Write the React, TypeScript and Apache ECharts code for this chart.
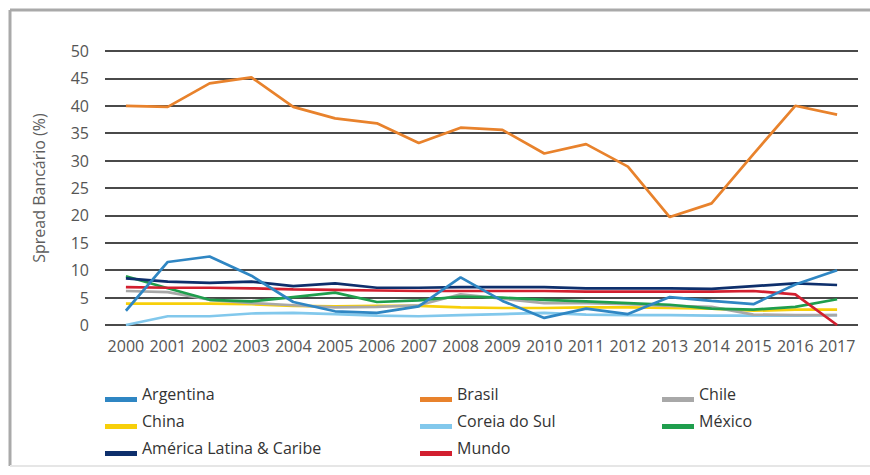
import React, { useEffect, useRef } from "react";
import * as echarts from "echarts";

// Years on the category axis
const years = [
  "2000", "2001", "2002", "2003", "2004", "2005", "2006", "2007", "2008",
  "2009", "2010", "2011", "2012", "2013", "2014", "2015", "2016", "2017",
];

// Bank spread (%) per country / region
const argentina = [2.6, 11.5, 12.5, 9.0, 4.2, 2.5, 2.2, 3.4, 8.7, 4.4, 1.3, 3.0, 2.0, 5.1, 4.4, 3.8, 7.4, 10.0];
const brasil = [40.0, 39.8, 44.1, 45.2, 39.8, 37.7, 36.8, 33.2, 36.0, 35.6, 31.3, 33.0, 28.9, 19.7, 22.2, 31.2, 40.0, 38.4];
const chile = [6.2, 6.0, 4.6, 4.0, 3.6, 3.2, 3.3, 3.6, 5.6, 4.8, 4.0, 4.0, 3.8, 3.5, 3.3, 1.9, 1.8, 1.8];
const china = [3.9, 3.9, 3.9, 3.8, 3.5, 3.4, 3.5, 3.5, 3.2, 3.1, 3.1, 3.2, 3.2, 3.1, 3.0, 2.6, 2.8, 2.8];
const coreiaDoSul = [0.0, 1.6, 1.6, 2.1, 2.2, 2.0, 1.7, 1.6, 1.8, 2.0, 2.2, 1.9, 1.8, 1.8, 1.7, 1.7, 1.7, 1.8];
const mexico = [8.9, 6.7, 4.6, 4.3, 5.1, 5.9, 4.2, 4.5, 5.2, 5.0, 4.6, 4.3, 4.0, 3.7, 3.0, 2.8, 3.3, 4.7];
const americaLatina = [8.5, 7.9, 7.7, 7.9, 7.1, 7.6, 6.8, 6.8, 6.9, 6.9, 6.9, 6.7, 6.7, 6.7, 6.6, 7.1, 7.6, 7.3];
const mundo = [6.9, 6.8, 6.8, 6.7, 6.5, 6.4, 6.3, 6.2, 6.2, 6.2, 6.2, 6.1, 6.1, 6.1, 6.1, 6.2, 5.6, 0.0];

// Y-axis range and step
const yMin = 0;
const yMax = 50;
const yStep = 5;

const FONT = "'Open Sans', 'Noto Sans', sans-serif";

const COLORS: Record<string, string> = {
  Argentina: "#2f86c3",
  Brasil: "#e8822c",
  Chile: "#a8a8a8",
  China: "#f7cf0a",
  "Coreia do Sul": "#82c8ec",
  "México": "#1f9e4d",
  "América Latina & Caribe": "#0e2f6c",
  Mundo: "#d21f2f",
};

const seriesData: [string, number[]][] = [
  ["Coreia do Sul", coreiaDoSul],
  ["China", china],
  ["Chile", chile],
  ["México", mexico],
  ["Mundo", mundo],
  ["América Latina & Caribe", americaLatina],
  ["Brasil", brasil],
  ["Argentina", argentina],
];

// Legend swatch: a flat bar sitting low in a 32x17 box, so the label rides above it
const SWATCH = "path://M0,0h0.01v0.01h-0.01Z M0,12h32v5h-32Z";

function legendColumn(names: string[], left: number) {
  return {
    data: names,
    orient: "vertical",
    left,
    top: 385,
    height: 100,
    padding: 0,
    icon: SWATCH,
    itemWidth: 32,
    itemHeight: 17,
    itemGap: 10,
    selectedMode: false,
    textStyle: {
      fontFamily: FONT,
      fontSize: 16,
      lineHeight: 16,
      color: "#333333",
    },
  };
}

export default function App() {
  const ref = useRef<HTMLDivElement>(null);

  useEffect(() => {
    if (!ref.current) return;
    const chart = echarts.init(ref.current, null, { renderer: "svg" });

    chart.setOption({
      animation: false,
      backgroundColor: "#ffffff",
      textStyle: { fontFamily: FONT },
      graphic: [
        // outer frame
        { type: "line", shape: { x1: 10, y1: 10, x2: 870, y2: 10 }, style: { stroke: "#a9a9a9", lineWidth: 3 } },
        { type: "line", shape: { x1: 10, y1: 10, x2: 10, y2: 466 }, style: { stroke: "#a9a9a9", lineWidth: 3 } },
        { type: "line", shape: { x1: 10, y1: 466, x2: 870, y2: 466 }, style: { stroke: "#e6e6e6", lineWidth: 2 } },
      ],
      grid: { left: 105, right: 12, top: 51, bottom: 150, containLabel: false },
      xAxis: {
        type: "category",
        data: years,
        boundaryGap: true,
        axisLine: { show: false },
        axisTick: { show: false },
        axisLabel: {
          interval: 0,
          fontSize: 16,
          color: "#555555",
          margin: 13,
          fontFamily: FONT,
        },
      },
      yAxis: {
        type: "value",
        min: yMin,
        max: yMax,
        interval: yStep,
        name: "Spread Bancário (%)",
        nameLocation: "middle",
        nameGap: 58,
        nameTextStyle: { fontSize: 16, color: "#5e5e5e", fontFamily: FONT },
        axisLine: { show: false },
        axisTick: { show: false },
        axisLabel: { fontSize: 16, color: "#555555", margin: 16, fontFamily: FONT },
        splitLine: { lineStyle: { color: "#4a4a4a", width: 2 } },
      },
      legend: [
        legendColumn(["Argentina", "China", "América Latina & Caribe"], 105),
        legendColumn(["Brasil", "Coreia do Sul", "Mundo"], 420),
        legendColumn(["Chile", "México"], 662),
      ],
      series: seriesData.map(([name, data]) => ({
        name,
        type: "line",
        data,
        symbol: "none",
        color: COLORS[name],
        lineStyle: { width: 2.7, color: COLORS[name] },
      })),
    });

    return () => chart.dispose();
  }, []);

  return (
    <div
      ref={ref}
      style={{ position: "fixed", left: 0, top: 0, width: 870, height: 475 }}
    />
  );
}
